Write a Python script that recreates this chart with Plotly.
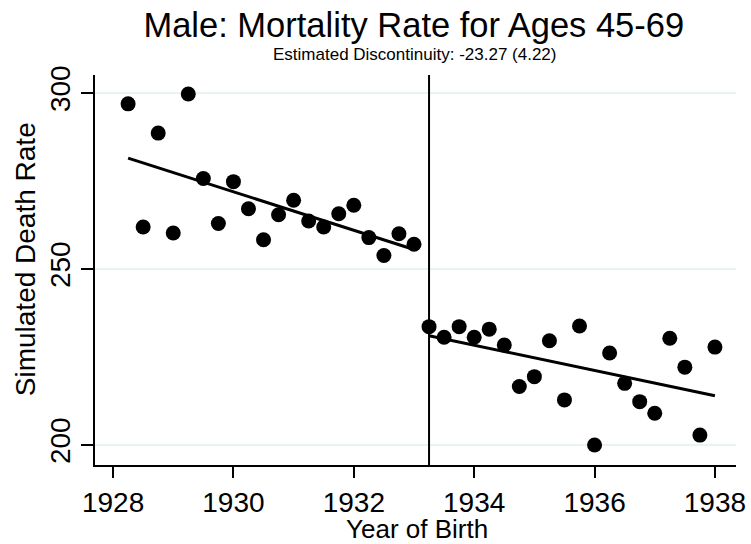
import numpy as np
import plotly.graph_objects as go

# -----------------------------
# Data (quarterly birth cohorts)
# -----------------------------
years_before = [1928.25, 1928.5, 1928.75, 1929.0, 1929.25, 1929.5, 1929.75, 1930.0,
                1930.25, 1930.5, 1930.75, 1931.0, 1931.25, 1931.5, 1931.75, 1932.0,
                1932.25, 1932.5, 1932.75, 1933.0]
rate_before = [296.9, 261.9, 288.6, 260.2, 299.7, 275.7, 262.9, 274.8,
               267.1, 258.3, 265.4, 269.5, 263.6, 261.9, 265.7, 268.1,
               258.9, 253.8, 260.0, 257.0]

years_after = [1933.25, 1933.5, 1933.75, 1934.0, 1934.25, 1934.5, 1934.75, 1935.0,
               1935.25, 1935.5, 1935.75, 1936.0, 1936.25, 1936.5, 1936.75, 1937.0,
               1937.25, 1937.5, 1937.75, 1938.0]
rate_after = [233.6, 230.6, 233.6, 230.6, 232.9, 228.4, 216.6, 219.4,
              229.6, 212.8, 233.8, 200.0, 226.1, 217.5, 212.3, 209.0,
              230.3, 222.1, 202.8, 227.8]

cutoff = 1933.25
x_ticks = [1928, 1930, 1932, 1934, 1936, 1938]
y_ticks = [200, 250, 300]

# linear fits on each side of the cutoff
b_fit = np.polyfit(years_before, rate_before, 1)
a_fit = np.polyfit(years_after, rate_after, 1)
fit_before = np.polyval(b_fit, [years_before[0], years_before[-1]])
fit_after = np.polyval(a_fit, [years_after[0], years_after[-1]])

fig = go.Figure()

for xs, ys in [(years_before, rate_before), (years_after, rate_after)]:
    fig.add_trace(go.Scatter(x=xs, y=ys, mode='markers',
                             marker=dict(color='black', size=15)))

fig.add_trace(go.Scatter(x=[years_before[0], years_before[-1]], y=fit_before,
                         mode='lines', line=dict(color='black', width=3)))
fig.add_trace(go.Scatter(x=[years_after[0], years_after[-1]], y=fit_after,
                         mode='lines', line=dict(color='black', width=3)))

fig.add_vline(x=cutoff, line=dict(color='black', width=2))

# axis titles and subtitle placed as annotations (Stata-like tight layout)
fig.update_layout(
    width=751, height=544,
    margin=dict(l=95, r=15, t=75, b=79),
    paper_bgcolor='white', plot_bgcolor='white',
    showlegend=False,
    font=dict(family='Liberation Sans, Arial', color='black', size=28),
    title=dict(text='Male: Mortality Rate for Ages 45-69', x=0.551, xanchor='center',
               y=0.954, yanchor='middle', font=dict(size=34.5)),
    annotations=[
        dict(text='Estimated Discontinuity: -23.27 (4.22)', xref='paper', yref='paper',
             x=0.499, y=1.0538, xanchor='center', yanchor='middle',
             showarrow=False, font=dict(size=17)),
        dict(text='Year of Birth', xref='paper', yref='paper',
             x=0.503, y=-0.1641, xanchor='center', yanchor='middle',
             showarrow=False, font=dict(size=26)),
        dict(text='Simulated Death Rate', xref='paper', yref='paper', textangle=-90,
             x=-0.109, y=0.528, xanchor='center', yanchor='middle',
             showarrow=False, font=dict(size=28)),
    ],
)

fig.update_xaxes(
    range=[1927.7, 1938.35], tickvals=x_ticks, showgrid=False, automargin=False,
    showline=True, linecolor='black', linewidth=2,
    ticks='outside', ticklen=11, tickwidth=2, tickcolor='black', zeroline=False,
)
fig.update_yaxes(
    range=[194.3, 305.1], tickvals=y_ticks, tickangle=-90, automargin=False,
    showgrid=True, gridcolor='#eaf2f3', gridwidth=2,
    showline=True, linecolor='black', linewidth=2,
    ticks='outside', ticklen=12, tickwidth=2, tickcolor='black', zeroline=False,
)

fig.write_html("out.html", config={'displayModeBar': False},
               post_script="document.body.style.margin='0';")
